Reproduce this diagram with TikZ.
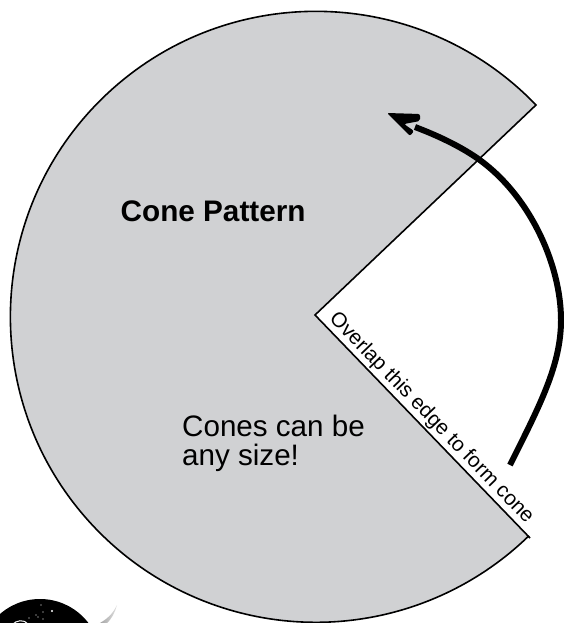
\documentclass[tikz,border=0pt]{standalone}
\usepackage{fontspec}
\setmainfont{Liberation Sans}
\definecolor{pat}{RGB}{208,209,211}
\tikzset{lbl/.style={inner sep=0pt,text=black}}
\begin{document}
\begin{tikzpicture}[x=1pt,y=-1pt]
\useasboundingbox (0,0) rectangle (563,623);
% black disc and crescent, cropped by the page
\begin{scope}
\clip (0,0) rectangle (563,623);
\fill[black] (40,660) circle[radius=61];
\draw[white,line width=1pt] (12,625) .. controls (16,620) and (24,619) .. (28,624);
\shade[left color=gray!75,right color=gray!25] (117,605) .. controls (113,614) and (106,620) .. (98,624) -- (106,624) .. controls (112,619) and (115,612) .. (117,605) -- cycle;
\foreach \p in {(41,605),(43,612),(36,615),(38,617),(43,619),(29,618)}
  \fill[white] \p circle[radius=0.6];
\fill[white] (52,611) circle[radius=1.1];
\end{scope}
% pattern
\coordinate (apex) at (315,315);
\coordinate (tipU) at (536,105);
\coordinate (tipL) at (530,538);
\filldraw[fill=pat,draw=black,line width=1.6pt,line join=miter]
  (apex) -- (tipU)
  arc[start angle=-43.9,delta angle=-270.2,radius=305.5] -- (tipL) -- cycle;
% text
\node[lbl,font=\bfseries\fontsize{29.7}{29.7}\selectfont,anchor=base west] (title) at (120.5,221) {Cone Pattern};
\node[lbl,font=\fontsize{29.6}{29}\selectfont,align=left,anchor=north west] (note) at (182,415) {Cones can be\\any size!};
\node[lbl,font=\fontsize{20.8}{20.8}\selectfont,rotate=-46,anchor=base west] (edge) at (328.5,319.5) {Overlap this edge to form cone};
% arrow
\coordinate (a0) at (510,465);
\coordinate (a1) at (387,113);
\coordinate (a2) at (415,127);
\draw[line width=6pt,black] (a0) .. controls (540,405) and (561,365) .. (561,320)
  .. controls (561,265) and (530,195) .. (477,158)
  .. controls (458,145) and (436,135) .. (a2);
\fill[black,rounded corners=2pt] (a1) -- (420,114) -- (420,121) -- (404,124) -- (414,131) -- (410,136) -- cycle;
\end{tikzpicture}
\end{document}
